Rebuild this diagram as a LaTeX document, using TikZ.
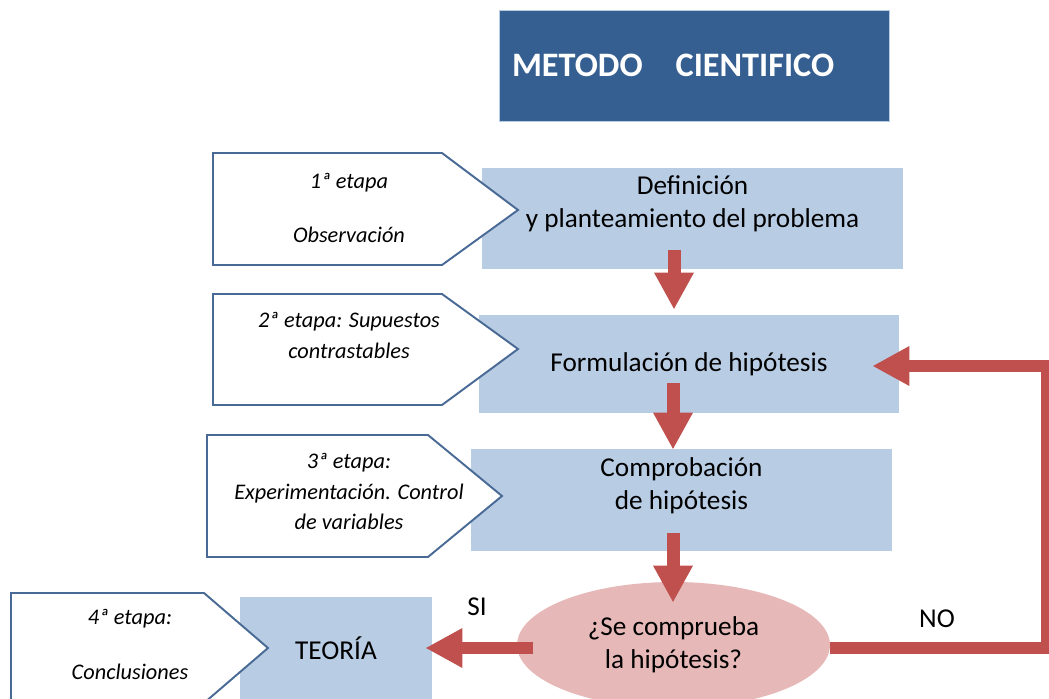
\documentclass[tikz,border=0pt]{standalone}
\usepackage{fontspec}
\setmainfont{Carlito}
\usepackage{xcolor}
\usepackage{tikz}
\usetikzlibrary{shapes,arrows.meta,positioning,calc}

\definecolor{titleblue}{HTML}{365F91}
\definecolor{boxblue}{HTML}{B8CCE4}
\definecolor{arrowred}{HTML}{C0504D}
\definecolor{ovalpink}{HTML}{E6B9B8}
\definecolor{stageline}{HTML}{4A6A96}

\begin{document}
\begin{tikzpicture}[x=0.02cm, y=-0.02cm, font=\fontsize{15.5}{19}\selectfont,
    box/.style={fill=boxblue, align=center, inner sep=0pt},
    stage/.style={draw=stageline, line width=1.1pt, fill=white, line join=miter},
    stagetext/.style={font=\fontsize{12.7}{17.3}\selectfont\itshape, align=center},
    bigarrow/.style={color=arrowred, line width=0.26cm, line join=miter,
        -{Triangle[width=0.74cm,length=0.74cm]}}]
    \useasboundingbox (0,0) rectangle (1049,699);
    \clip (0,0) rectangle (1049,699);

    % Title
    \node[fill=titleblue, draw=boxblue, minimum width=7.8cm, minimum height=2.22cm,
        text width=7.28cm, inner xsep=0.26cm, align=left, text=white,
        font=\fontsize{19.5}{22}\selectfont\bfseries] (title) at (694,65.5)
        {METODO\hspace{0.66cm}CIENTIFICO};

    % Main steps
    \node[box, minimum width=8.42cm, minimum height=2.02cm] (def) at (692.5,218.5)
        {Definición\\y planteamiento del problema\\\mbox{}};
    \node[box, minimum width=8.4cm, minimum height=1.98cm] (form) at (689,364)
        {Formulación de hipótesis};
    \node[box, minimum width=8.42cm, minimum height=2.04cm] (comp) at (681.5,500)
        {Comprobación\\de hipótesis\\\mbox{}};
    \node[box, minimum width=3.84cm, minimum height=2.04cm] (teoria) at (336,648)
        {TEORÍA};
    \node[ellipse, fill=ovalpink, minimum width=6.26cm, minimum height=2.52cm,
        align=center, inner sep=0pt] (decide) at (673.5,645)
        {¿Se comprueba\\la hipótesis?};

    % Stages
    \draw[stage] (213,153) -- (442,153) -- (518,210) -- (442,265) -- (213,265) -- cycle;
    \node[stagetext] (obs) at (349,208) {1ª etapa\\[13.4pt]Observación};
    \draw[stage] (213,294) -- (442,294) -- (518,349) -- (442,405) -- (213,405) -- cycle;
    \node[stagetext] (sup) at (349,335.5) {2ª etapa: Supuestos\\contrastables};
    \draw[stage] (207,435) -- (428,435) -- (502,496) -- (428,557) -- (207,557) -- cycle;
    \node[stagetext] (exp) at (349,491.5) {3ª etapa:\\Experimentación. Control\\de variables};
    \draw[stage] (11,593) -- (204,593) -- (268,648) -- (204,703) -- (11,703) -- cycle;
    \node[stagetext] (conc) at (130,644.5) {4ª etapa:\\[14pt]Conclusiones};

    % Arrows
    \draw[bigarrow] ($(def.south)+(-18.5,-19.5)$) -- ($(form.north)+(-15,-4.5)$);
    \draw[bigarrow] ($(form.south)+(-16,-31)$) -- ($(comp.north)+(-8.5,1)$);
    \draw[bigarrow] ($(comp.south)+(-8.5,-18)$) -- ($(decide.north)+(-0.5,21)$);
    \draw[bigarrow] ($(decide.west)+(16,3)$) -- ($(decide.west -| teoria.east)+(-7,3)$);
    \coordinate (loop) at (1047,366);
    \draw[bigarrow] ($(decide.east)+(0,3)$) -| (loop) -- ($(loop -| form.east)+(-27,0)$);

    % Answers
    \node (si) at (477,607) {SI};
    \node (no) at (937,619) {NO};
\end{tikzpicture}
\end{document}
